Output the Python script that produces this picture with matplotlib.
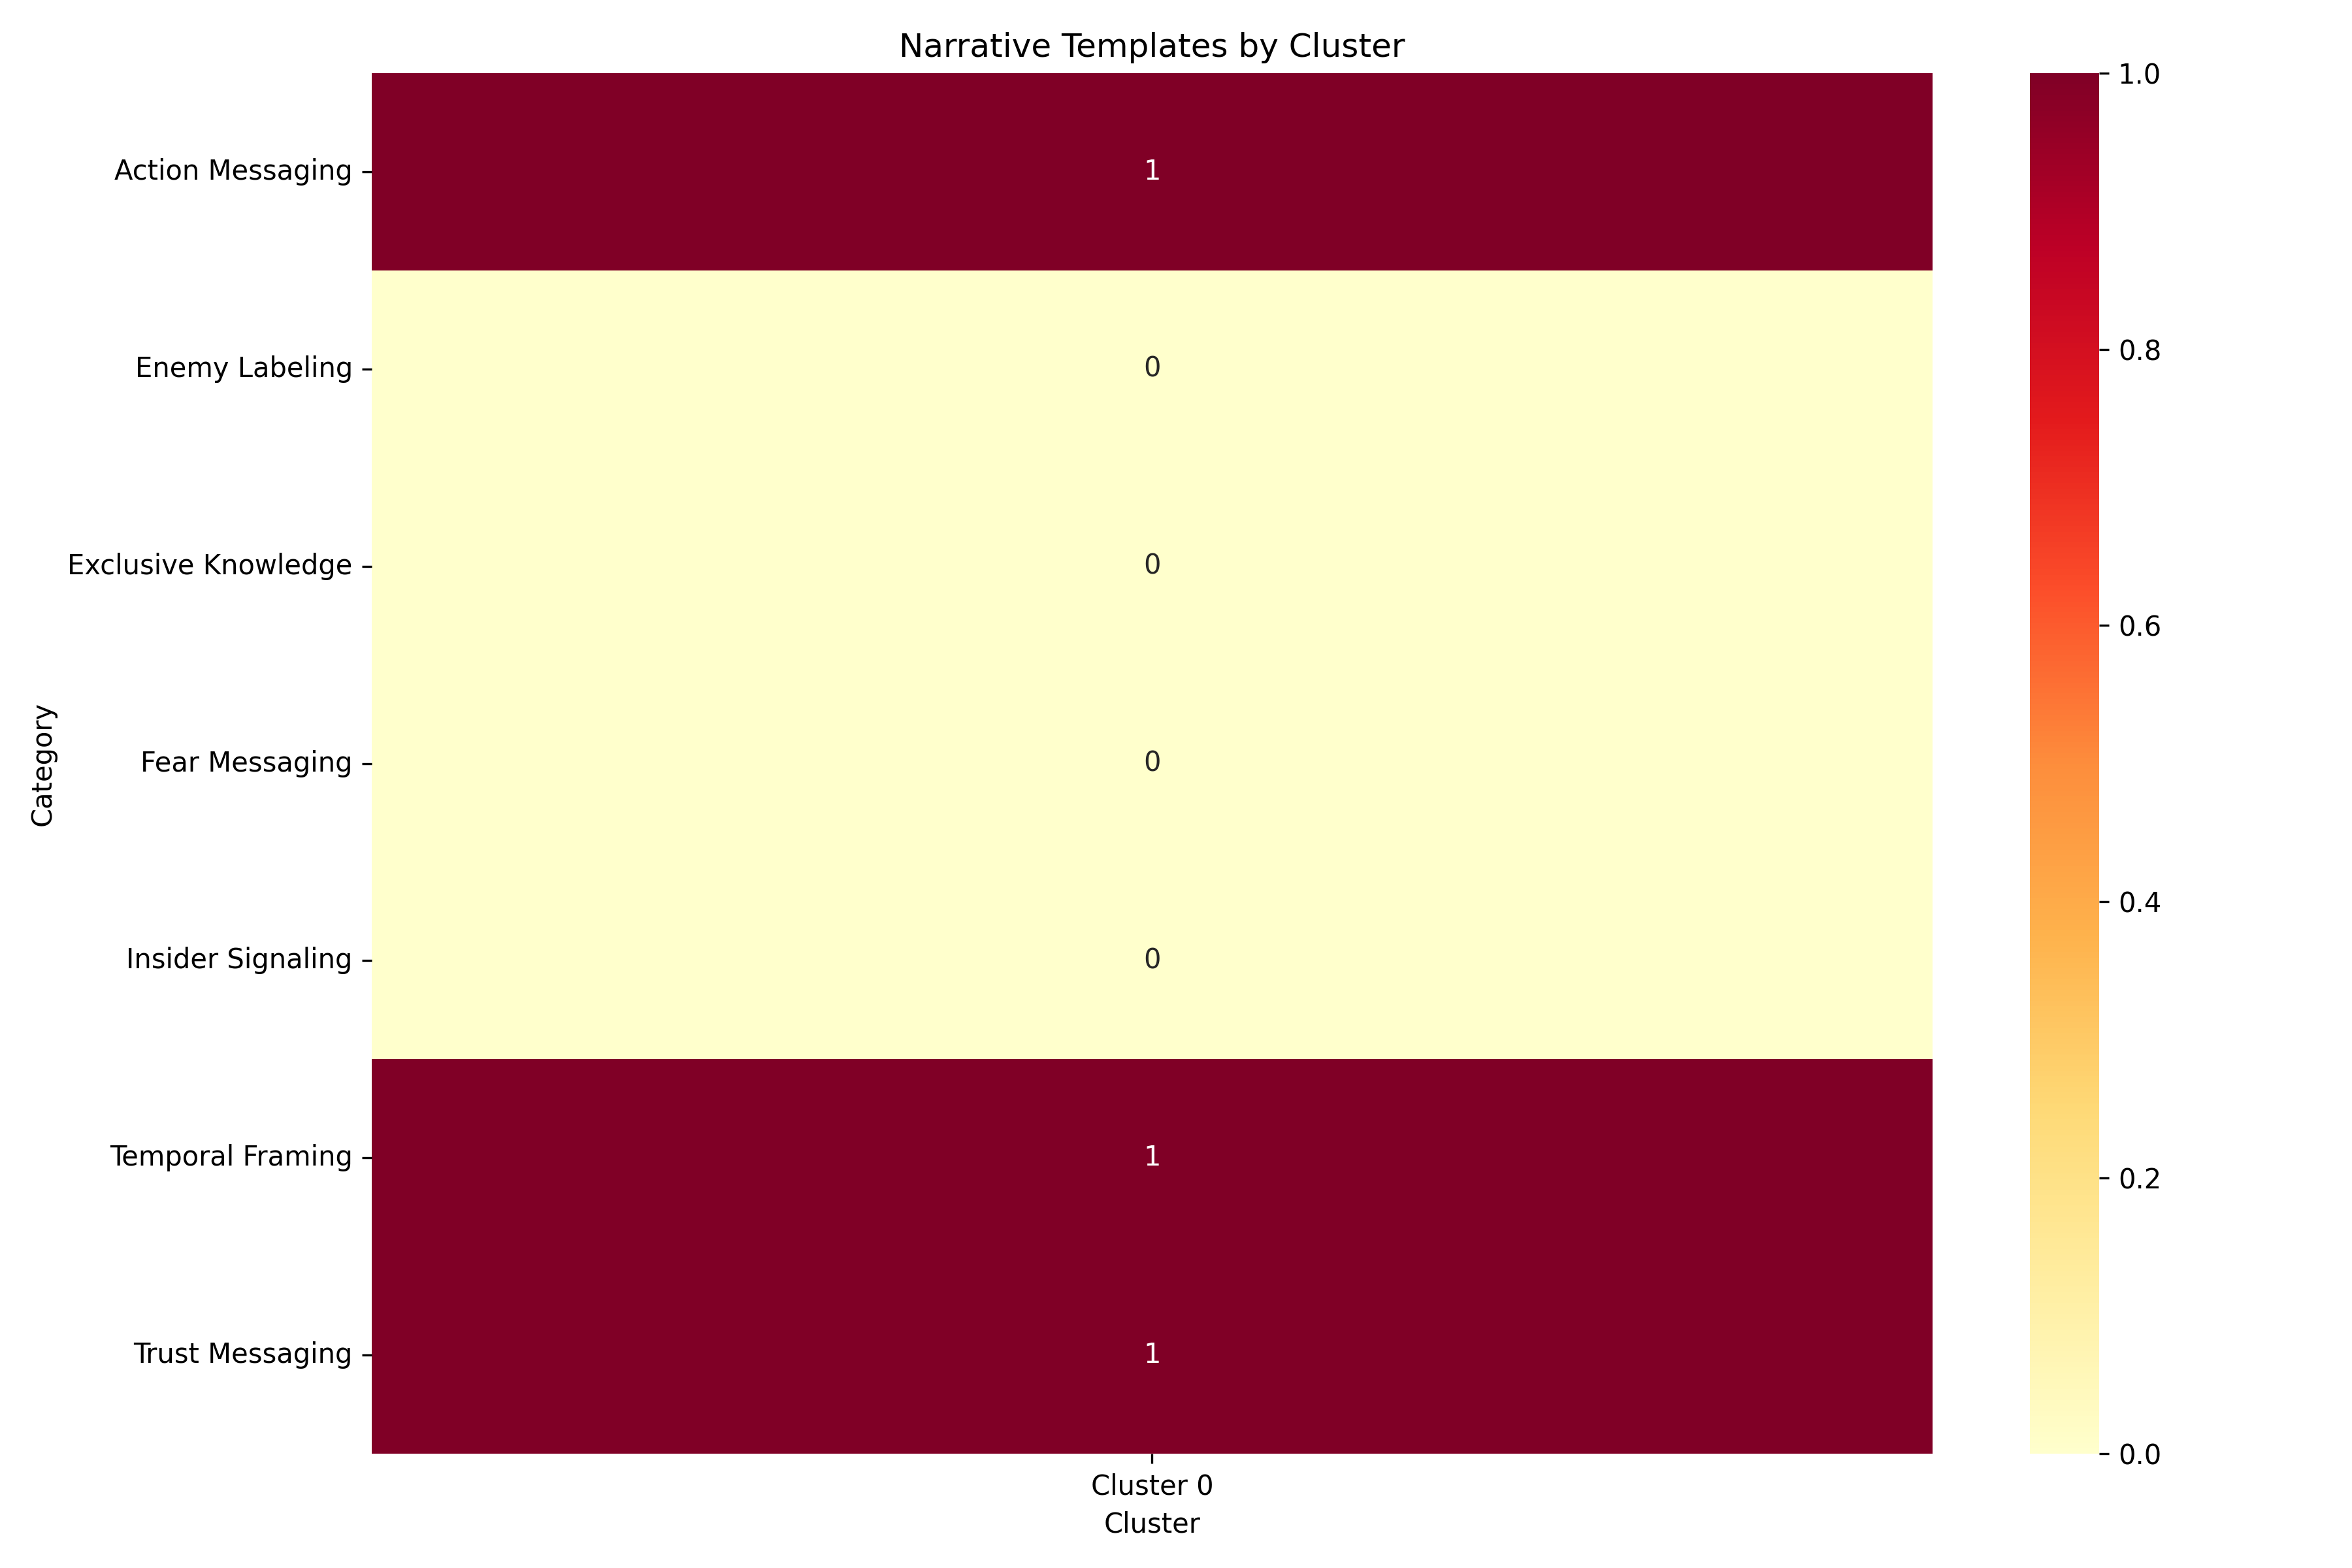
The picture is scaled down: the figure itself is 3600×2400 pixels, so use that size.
import matplotlib

matplotlib.use("Agg")
import matplotlib.pyplot as plt
import pandas as pd
import seaborn as sns

categories = [
    "Action Messaging",
    "Enemy Labeling",
    "Exclusive Knowledge",
    "Fear Messaging",
    "Insider Signaling",
    "Temporal Framing",
    "Trust Messaging",
]
clusters = ["Cluster 0"]
cluster_0 = [1, 0, 0, 0, 0, 1, 1]

frame = pd.DataFrame({"Cluster 0": cluster_0}, index=categories)

fig, ax = plt.subplots(figsize=(12, 8))
sns.heatmap(frame, annot=True, fmt="d", cmap="YlOrRd", ax=ax)
ax.set_title("Narrative Templates by Cluster")
ax.set_xlabel("Cluster")
ax.set_ylabel("Category")
plt.tight_layout()
fig.savefig("out.png", dpi=300)
plt.close(fig)
